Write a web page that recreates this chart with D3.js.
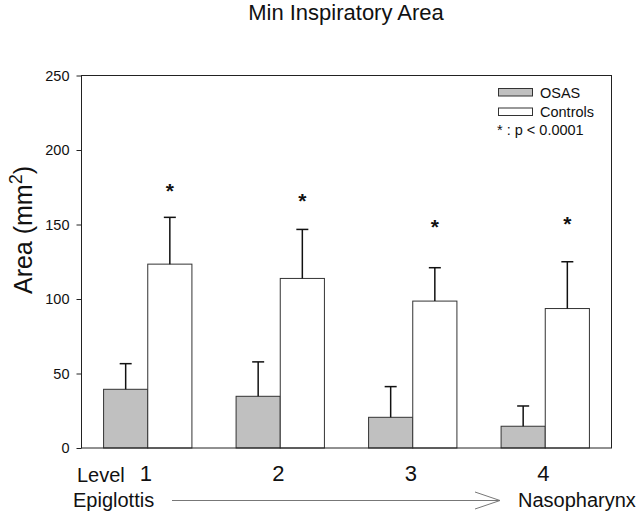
<!DOCTYPE html>
<html><head><meta charset="utf-8">
<script src="https://cdn.jsdelivr.net/npm/d3@7"></script>
<style>body{margin:0;background:#fff}svg{display:block;font-family:"Liberation Sans",Arial,sans-serif}</style>
</head><body>
<svg id="c" width="640" height="513"></svg>
<script>
const levels = ["1", "2", "3", "4"];
const seriesNames = ["OSAS", "Controls"];
const osasMean = [39.4, 34.7, 20.6, 14.6];
const osasErr = [17.2, 23.1, 20.6, 13.6];
const ctrlMean = [123.4, 113.8, 98.6, 93.6];
const ctrlErr = [31.4, 32.9, 22.4, 31.4];
const starY = [176, 169, 152, 154];
const yTicks = [0, 50, 100, 150, 200, 250];

const svg = d3.select("#c");
const L = 81.5, R = 611.5, T = 75.5, B = 448;
const x = d3.scaleBand().domain(levels).range([L, R]).padding(0);
const bw = x.bandwidth();
const xi = d3.scaleBand().domain(seriesNames).range([bw / 6, 5 * bw / 6]).padding(0);
const y = d3.scaleLinear().domain([0, 250]).range([B, T]);

const fills = {OSAS: "#c0c0c0", Controls: "#ffffff"};
const data = [];
levels.forEach((lv, i) => {
  data.push({lv, s: "OSAS", v: osasMean[i], e: osasErr[i]});
  data.push({lv, s: "Controls", v: ctrlMean[i], e: ctrlErr[i]});
});

// bars
svg.append("g").selectAll("rect").data(data).join("rect")
  .attr("x", d => x(d.lv) + xi(d.s))
  .attr("y", d => y(d.v))
  .attr("width", xi.bandwidth())
  .attr("height", d => B - y(d.v))
  .attr("fill", d => fills[d.s])
  .attr("stroke", "#333").attr("stroke-width", 1);

// error bars
const eg = svg.append("g").attr("stroke", "#111").attr("stroke-width", 1.5);
data.forEach(d => {
  const cx = x(d.lv) + xi(d.s) + xi.bandwidth() / 2;
  eg.append("line").attr("x1", cx).attr("x2", cx).attr("y1", y(d.v)).attr("y2", y(d.v + d.e));
  eg.append("line").attr("x1", cx - 6).attr("x2", cx + 6).attr("y1", y(d.v + d.e)).attr("y2", y(d.v + d.e));
});

// asterisks
svg.append("g").selectAll("text").data(levels).join("text")
  .attr("x", (d, i) => x(d) + xi("Controls") + xi.bandwidth() / 2)
  .attr("y", (d, i) => y(starY[i]) + 12)
  .attr("text-anchor", "middle").attr("font-size", 21).attr("font-weight", "bold").attr("fill", "#111")
  .text("*");

// frame
svg.append("rect").attr("x", L).attr("y", T).attr("width", R - L).attr("height", B - T)
  .attr("fill", "none").attr("stroke", "#222").attr("stroke-width", 1);

// y axis
const ya = svg.append("g").attr("transform", `translate(${L},0)`)
  .call(d3.axisLeft(y).tickValues(yTicks).tickSize(5).tickPadding(7).tickFormat(d3.format("d")));
ya.select(".domain").remove();
ya.selectAll("line").attr("stroke", "#222");
ya.selectAll("text").attr("font-size", 14.5).attr("fill", "#111").attr("font-family", "Liberation Sans, Arial, sans-serif");

// level labels
svg.append("g").selectAll("text").data(levels).join("text")
  .attr("x", d => x(d) + bw / 2 - 2)
  .attr("y", 481)
  .attr("text-anchor", "middle").attr("font-size", 22).attr("fill", "#111")
  .text(d => d);
svg.append("text").attr("x", 77).attr("y", 482).attr("font-size", 20).attr("fill", "#111").text("Level");
svg.append("text").attr("x", 73).attr("y", 506.5).attr("font-size", 20).attr("fill", "#111").text("Epiglottis");
svg.append("text").attr("x", 518).attr("y", 506.5).attr("font-size", 20).attr("fill", "#111").text("Nasopharynx");

// arrow
svg.append("line").attr("x1", 172).attr("x2", 500).attr("y1", 500.5).attr("y2", 500.5).attr("stroke", "#777").attr("stroke-width", 1);
svg.append("path").attr("d", "M475,492 L500,500.5 L475,509").attr("fill", "none").attr("stroke", "#777").attr("stroke-width", 1);

// title
svg.append("text").attr("x", 346).attr("y", 20).attr("text-anchor", "middle").attr("font-size", 22).attr("fill", "#111").text("Min Inspiratory Area");

// y title
const yt = svg.append("text").attr("transform", "translate(32,230) rotate(-90)")
  .attr("text-anchor", "middle").attr("font-size", 25).attr("fill", "#111");
yt.append("tspan").text("Area (mm");
yt.append("tspan").attr("font-size", 18).attr("dy", -10).text("2");
yt.append("tspan").attr("dy", 10).text(")");

// legend
const lg = svg.append("g");
seriesNames.forEach((s, i) => {
  lg.append("rect").attr("x", 498.5).attr("y", 88.5 + i * 19.5).attr("width", 34).attr("height", 7.5)
    .attr("fill", fills[s]).attr("stroke", "#333").attr("stroke-width", 1);
  lg.append("text").attr("x", 540).attr("y", 97.5 + i * 19.5).attr("font-size", 14.5).attr("fill", "#111").text(s);
});
lg.append("text").attr("x", 497).attr("y", 135).attr("font-size", 14.5).attr("fill", "#111").text("* : p < 0.0001");
</script>
</body></html>
